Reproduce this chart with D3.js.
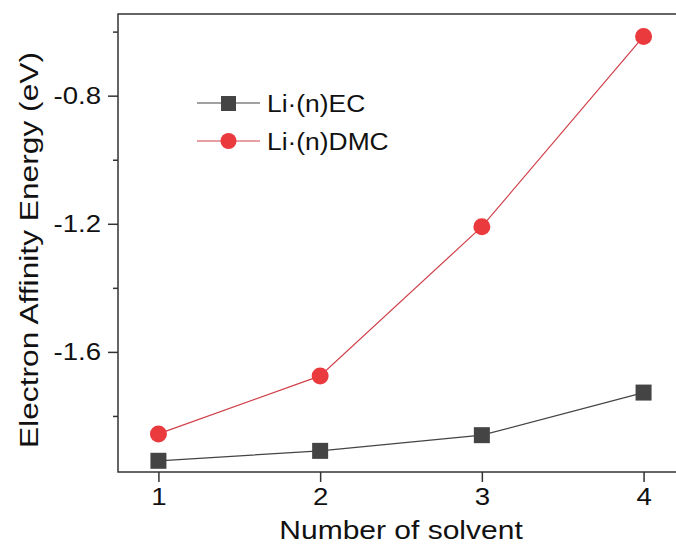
<!DOCTYPE html>
<html>
<head>
<meta charset="utf-8">
<script src="https://cdn.jsdelivr.net/npm/d3@7"></script>
<style>
  body { margin: 0; background: #fff; }
  text { font-family: "Liberation Sans", Arial, sans-serif; fill: #111; }
</style>
</head>
<body>
<svg id="chart"></svg>
<script>
// data
var solvents = [1, 2, 3, 4];
var ecValues = [-1.94, -1.909, -1.86, -1.727];
var dmcValues = [-1.856, -1.675, -1.209, -0.615];
var yMajorTicks = [-1.6, -1.2, -0.8];
var yMinorTicks = [-1.8, -1.4, -1.0, -0.6];
var seriesNames = ["Li\u00b7(n)EC", "Li\u00b7(n)DMC"];

var W = 676, H = 550;
var margin = { top: 14, left: 118, bottom: 78 };
var plotW = 566, plotH = H - margin.top - margin.bottom;
var stretch = 1.15; // text in the picture is a bit wide

var svg = d3.select("#chart").attr("width", W).attr("height", H);

var x = d3.scaleLinear().domain([0.75, 4.25]).range([0, plotW]);
var y = d3.scaleLinear().domain([-1.975, -0.545]).range([plotH, 0]);

var g = svg.append("g")
  .attr("transform", "translate(" + margin.left + "," + margin.top + ")");

// frame
g.append("rect")
  .attr("x", 0).attr("y", 0)
  .attr("width", plotW).attr("height", plotH)
  .attr("fill", "none").attr("stroke", "#333").attr("stroke-width", 1.5);

// axes
g.append("g")
  .attr("class", "axis axis--x")
  .attr("transform", "translate(0," + plotH + ")")
  .call(d3.axisBottom(x).tickValues(solvents).tickFormat(d3.format("d"))
    .tickSize(10).tickPadding(6));

g.append("g")
  .attr("class", "axis axis--y")
  .call(d3.axisLeft(y).tickValues(yMajorTicks).tickFormat(d3.format(".1f"))
    .tickSize(10).tickPadding(7));

g.append("g")
  .call(d3.axisLeft(y).tickValues(yMinorTicks).tickFormat("").tickSize(5));

g.selectAll(".domain").remove();
g.selectAll(".tick line").attr("stroke", "#333").attr("stroke-width", 1.5);
g.selectAll(".tick text").style("font-size", "24px").attr("fill", "#111")
  .text(function() { return d3.select(this).text().replace("\u2212", "-"); });

// widen the tick labels around their anchor
g.selectAll(".axis--x .tick text")
  .attr("transform", "scale(" + stretch + ",1)");
g.selectAll(".axis--y .tick text").each(function() {
  var t = d3.select(this), tx = +t.attr("x");
  t.attr("x", tx / stretch).attr("transform", "scale(" + stretch + ",1)");
});

// lines
var line = d3.line()
  .x(function(d, i) { return x(solvents[i]); })
  .y(function(d) { return y(d); });

g.append("path").datum(ecValues)
  .attr("d", line).attr("fill", "none")
  .attr("stroke", "#444").attr("stroke-width", 1.2);

g.append("path").datum(dmcValues)
  .attr("d", line).attr("fill", "none")
  .attr("stroke", "#d0404a").attr("stroke-width", 1.2);

// markers
g.selectAll(".sq").data(ecValues).enter().append("rect")
  .attr("x", function(d, i) { return x(solvents[i]) - 8; })
  .attr("y", function(d) { return y(d) - 8; })
  .attr("width", 16).attr("height", 16)
  .attr("fill", "#444");

g.selectAll(".dot").data(dmcValues).enter().append("circle")
  .attr("cx", function(d, i) { return x(solvents[i]); })
  .attr("cy", function(d) { return y(d); })
  .attr("r", 8.5)
  .attr("fill", "#ea3a3e");

// legend
var legend = svg.append("g").attr("transform", "translate(197,103)");
legend.append("line").attr("x1", 0).attr("x2", 63).attr("y1", 0).attr("y2", 0)
  .attr("stroke", "#444").attr("stroke-width", 1.2);
legend.append("rect").attr("x", 24).attr("y", -7).attr("width", 15).attr("height", 15)
  .attr("fill", "#444");
legend.append("text").attr("transform", "translate(70,9) scale(1.1,1)")
  .style("font-size", "24px")
  .text(seriesNames[0]);

legend.append("line").attr("x1", 0).attr("x2", 63).attr("y1", 38).attr("y2", 38)
  .attr("stroke", "#d0404a").attr("stroke-width", 1.2);
legend.append("circle").attr("cx", 31.5).attr("cy", 38).attr("r", 8)
  .attr("fill", "#ea3a3e");
legend.append("text").attr("transform", "translate(70,47) scale(1.1,1)")
  .style("font-size", "24px")
  .text(seriesNames[1]);

// axis titles
svg.append("text")
  .attr("transform", "translate(" + (margin.left + x(2.5)) + ",539) scale(1.2,1)")
  .attr("text-anchor", "middle").style("font-size", "25px")
  .text("Number of solvent");

svg.append("text")
  .attr("transform", "translate(38,250) rotate(-90) scale(1.22,1)")
  .attr("text-anchor", "middle").style("font-size", "26px")
  .text("Electron Affinity Energy (eV)");
</script>
</body>
</html>
